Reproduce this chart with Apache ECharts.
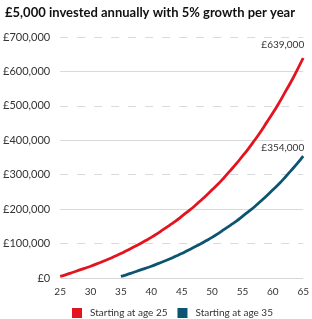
<!DOCTYPE html>
<html>
<head>
<meta charset="utf-8">
<script src="https://cdn.jsdelivr.net/npm/echarts@6/dist/echarts.min.js"></script>
<style>
  html, body { margin: 0; padding: 0; background: #fff; }
  #main { width: 312px; height: 319px; }
</style>
</head>
<body>
<div id="main"></div>
<script>
// pot value (in £ thousands) at each age, one point per year
const startAge25 = 25;
const startAge35 = 35;
const potFrom25 = [5, 10, 16, 22, 28, 34, 41, 48, 55, 63, 71, 80, 89, 98, 108, 118, 129, 141, 153, 165,
  179, 193, 207, 223, 239, 256, 273, 292, 312, 332, 354, 376, 400, 425, 452, 479, 508, 539, 570, 604, 639];
const potFrom35 = [5, 10, 16, 22, 28, 34, 41, 48, 55, 63, 71, 80, 89, 98, 108, 118, 129, 141, 153, 165,
  179, 193, 207, 223, 239, 256, 273, 292, 312, 332, 354];
const seriesNames = ["Starting at age 25", "Starting at age 35"];
const endLabels = ["£639,000", "£354,000"];
const yTicks = [0, 100000, 200000, 300000, 400000, 500000, 600000, 700000];

const RED = "#e3141f";
const BLUE = "#0d5470";
const FONT = "Lato, 'Open Sans', sans-serif";

function toPoints(start, vals) {
  return vals.map((v, i) => [start + i, v * 1000]);
}

const fmt = (v) => "£" + v.toLocaleString("en-GB");

const chart = echarts.init(document.getElementById("main"));

// dashed grid on odd hundreds, solid on even
const gridLines = yTicks.slice(1).map((t, i) => ({
  yAxis: t,
  lineStyle: { color: "#dadada", width: 1, type: i % 2 === 0 ? [8, 9] : "solid" },
}));

function endLabel(text, offY) {
  return {
    show: true,
    formatter: text,
    align: "right",
    verticalAlign: "middle",
    distance: 0,
    offset: [1, offY],
    color: "#333",
    fontSize: 10,
    fontFamily: FONT,
  };
}

chart.setOption({
  animation: false,
  title: {
    text: "£5,000 invested annually with 5% growth per year",
    left: 0,
    top: 1,
    textStyle: { fontSize: 13, fontWeight: "bold", color: "#111", fontFamily: FONT },
  },
  legend: {
    data: seriesNames,
    left: 67,
    top: 303,
    itemWidth: 10,
    itemHeight: 10,
    itemGap: 10,
    icon: "rect",
    textStyle: { fontSize: 10, color: "#333", fontFamily: FONT, padding: [0, 0, 0, 3] },
  },
  grid: { left: 54, right: 5, top: 37, bottom: 41 },
  xAxis: {
    type: "value",
    min: 25,
    max: 65,
    interval: 5,
    axisLine: { show: false },
    axisTick: { show: false },
    splitLine: { show: false },
    axisLabel: { color: "#333", fontSize: 10, fontFamily: FONT, margin: 9 },
  },
  yAxis: {
    type: "value",
    min: 0,
    max: 700000,
    interval: 100000,
    axisLine: { show: false },
    axisTick: { show: false },
    splitLine: { show: false },
    axisLabel: { color: "#333", fontSize: 11, fontFamily: FONT, margin: 10, formatter: fmt },
  },
  series: [
    {
      name: seriesNames[0],
      type: "line",
      smooth: true,
      showSymbol: false,
      symbol: "none",
      color: RED,
      lineStyle: { color: RED, width: 2.8 },
      data: toPoints(startAge25, potFrom25),
      endLabel: endLabel(endLabels[0], -13),
      markLine: {
        silent: true,
        symbol: "none",
        label: { show: false },
        z: 1,
        data: [{ yAxis: 0, lineStyle: { color: "#d6d6d6", width: 1, type: "solid" } }].concat(gridLines),
      },
      z: 3,
    },
    {
      name: seriesNames[1],
      type: "line",
      smooth: true,
      showSymbol: false,
      symbol: "none",
      color: BLUE,
      lineStyle: { color: BLUE, width: 2.8 },
      data: toPoints(startAge35, potFrom35),
      endLabel: endLabel(endLabels[1], -8),
      z: 3,
    },
  ],
});
</script>
</body>
</html>
